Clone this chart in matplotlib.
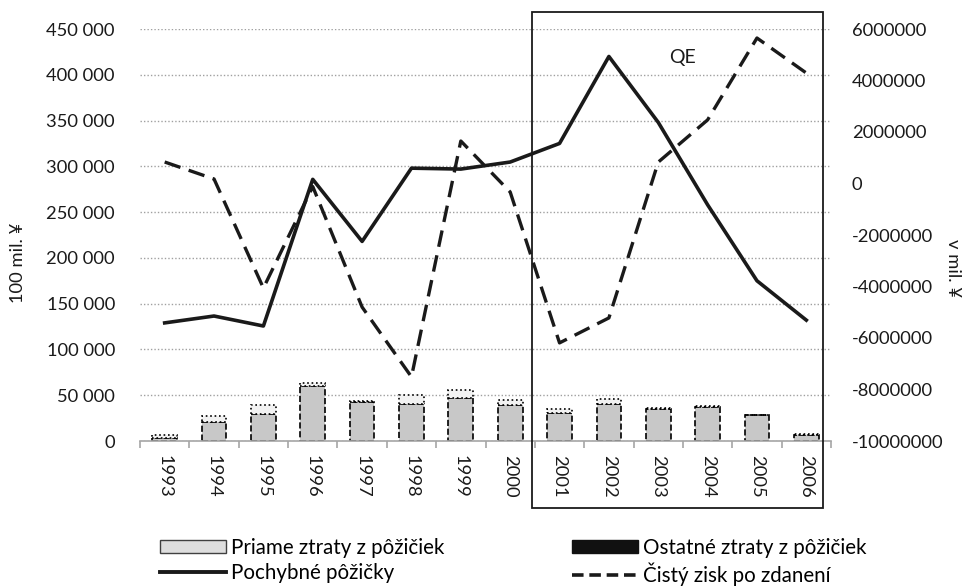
import matplotlib.pyplot as plt
import matplotlib.patches as mpatches
import matplotlib.transforms as mtransforms
from matplotlib.lines import Line2D
from matplotlib.ticker import FuncFormatter, MultipleLocator, FixedLocator

plt.rcParams['font.family'] = ['Lato', 'DejaVu Sans']

years = ['1993', '1994', '1995', '1996', '1997', '1998', '1999',
         '2000', '2001', '2002', '2003', '2004', '2005', '2006']
# 100 mil. ¥ (left axis)
priame = [3000, 21000, 29000, 60000, 43000, 40000, 46500,
          39000, 31000, 40000, 35000, 37000, 28000, 7000]
ostatne = [4000, 6500, 10000, 3000, 1000, 10000, 9500,
           6000, 3500, 6000, 1000, 1000, 0, 1000]
pochybne = [129000, 136500, 125600, 285800, 218000, 298000, 297000,
            304700, 325000, 420000, 348000, 258000, 175000, 132000]
# v mil. ¥ (right axis)
cisty_zisk = [835000, 175000, -4060000, -120000, -4800000, -7510000, 1650000,
              -330000, -6190000, -5220000, 830000, 2470000, 5650000, 4290000]

FS = 13.2      # tick labels
FS_LEG = 14.8  # legend text
INK = '#1a1a1a'

fig = plt.figure(figsize=(9.65, 5.87), dpi=100)
ax = fig.add_axes([140 / 965, 1 - 441 / 587, 691 / 965, 412 / 587])
ax2 = ax.twinx()

x = list(range(len(years)))

# bars
ax.bar(x, priame, width=0.5, color='#c8c8c8', edgecolor='black',
       linestyle='--', linewidth=1.2, zorder=2)
ax.bar(x, ostatne, width=0.5, bottom=priame, color='#f2f2f2', edgecolor='black',
       linestyle=':', linewidth=1.2, zorder=2)

# lines
ax.plot(x, pochybne, color=INK, linewidth=2.6, zorder=3)
ax2.plot(x, cisty_zisk, color=INK, linewidth=2.4, linestyle=(0, (5, 2.6)), zorder=3)

ax.set_xlim(-0.5, len(years) - 0.5)
ax.set_ylim(0, 450000)
ax2.set_ylim(-10000000, 6000000)
ax.yaxis.set_major_locator(MultipleLocator(50000))
ax2.yaxis.set_major_locator(MultipleLocator(2000000))
ax.yaxis.set_major_formatter(FuncFormatter(lambda v, p: f"{int(v):,}".replace(',', ' ')))
ax2.yaxis.set_major_formatter(FuncFormatter(lambda v, p: f"{int(v)}"))

ax.grid(axis='y', color='#a0a0a0', linestyle=(0, (1, 1.5)), linewidth=1)
ax.set_axisbelow(True)

for a in (ax, ax2):
    for s in ['top', 'left', 'right']:
        a.spines[s].set_visible(False)
ax2.spines['bottom'].set_visible(False)
ax.spines['bottom'].set_color('#a6a6a6')
ax.spines['bottom'].set_linewidth(1.2)

ax.set_xticks(x)
ax.set_xticklabels(years, rotation=270, fontsize=FS, color=INK)
ax.xaxis.set_minor_locator(FixedLocator([i - 0.5 for i in range(len(years) + 1)]))
ax.tick_params(axis='x', which='major', length=0, pad=10)
ax.tick_params(axis='x', which='minor', length=5, color='#a6a6a6', width=1.2)
ax.tick_params(axis='y', length=0, pad=18, labelsize=FS, labelcolor=INK)
ax2.tick_params(axis='y', length=0, pad=15, labelsize=FS, labelcolor=INK)

fig.text(18 / 965, 1 - 263 / 587, '100 mil. ¥', rotation=90, ha='center', va='center',
         fontsize=FS, color=INK)
fig.text(953 / 965, 1 - 268 / 587, 'v mil. ¥', rotation=270, ha='center', va='center',
         fontsize=FS, color=INK)

# QE box
trans = mtransforms.blended_transform_factory(ax.transData, ax.transAxes)
box = mpatches.Rectangle((7.44, -0.163), 5.9, 1.205, transform=trans, fill=False,
                         edgecolor=INK, linewidth=1.3, clip_on=False, zorder=5)
ax.add_patch(box)
ax.text(10.5, 0.932, 'QE', transform=trans, ha='center', va='center',
        fontsize=14, color=INK)

handles = [
    mpatches.Patch(facecolor='#dedede', edgecolor='#404040', linewidth=1),
    Line2D([0], [0], color=INK, linewidth=2.8),
    mpatches.Patch(facecolor='#111111', edgecolor='#111111'),
    Line2D([0], [0], color=INK, linewidth=2.6, linestyle=(0, (3.2, 1.6))),
]
labels = ['Priame ztraty z pôžičiek', 'Pochybné pôžičky',
          'Ostatné ztraty z pôžičiek', 'Čistý zisk po zdanení']
fig.legend(handles, labels, ncol=2, loc='center left',
           bbox_to_anchor=(160 / 965, 1 - 562 / 587), frameon=False,
           fontsize=FS_LEG, handlelength=3.2, handleheight=0.6, handletextpad=0.25,
           columnspacing=6.2, labelspacing=0.22, borderpad=0, borderaxespad=0)

fig.savefig('out.png', dpi=100)
